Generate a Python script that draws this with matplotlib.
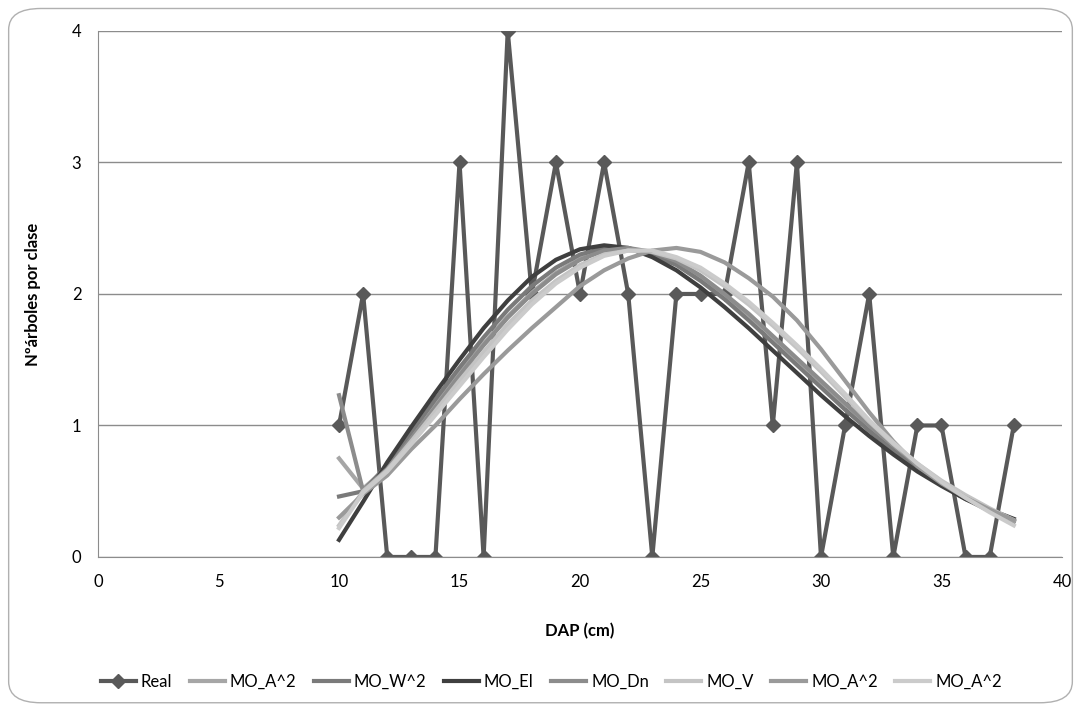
import matplotlib
matplotlib.use("Agg")
import matplotlib.pyplot as plt
from matplotlib.patches import FancyBboxPatch

plt.rcParams['font.family'] = ['Lato', 'DejaVu Sans']

# clases diametricas (cm)
dap = list(range(10, 39))

# frecuencia real
real = [1, 2, 0, 0, 0, 3, 0, 4, 2, 3, 2, 3, 2, 0, 2, 2, 2, 3, 1, 3,
        0, 1, 2, 0, 1, 1, 0, 0, 1]

# modelos ajustados
mo_a2 = [0.75, 0.52, 0.68, 0.92, 1.16, 1.40, 1.62, 1.83, 2.01, 2.16,
         2.27, 2.33, 2.34, 2.31, 2.24, 2.13, 1.99, 1.84, 1.67, 1.50,
         1.33, 1.16, 0.99, 0.84, 0.70, 0.57, 0.46, 0.36, 0.28]
mo_w2 = [0.46, 0.50, 0.70, 0.95, 1.20, 1.44, 1.67, 1.88, 2.06, 2.20,
         2.30, 2.35, 2.35, 2.30, 2.22, 2.10, 1.96, 1.80, 1.63, 1.46,
         1.29, 1.12, 0.96, 0.81, 0.67, 0.55, 0.44, 0.35, 0.27]
mo_el = [0.13, 0.42, 0.72, 0.99, 1.25, 1.50, 1.74, 1.95, 2.13, 2.26,
         2.34, 2.37, 2.35, 2.28, 2.18, 2.05, 1.90, 1.74, 1.57, 1.40,
         1.23, 1.07, 0.92, 0.78, 0.65, 0.54, 0.44, 0.36, 0.29]
mo_dn = [1.23, 0.50, 0.67, 0.90, 1.14, 1.38, 1.61, 1.82, 2.00, 2.15,
         2.26, 2.33, 2.35, 2.32, 2.25, 2.14, 2.00, 1.85, 1.68, 1.51,
         1.34, 1.17, 1.00, 0.85, 0.70, 0.57, 0.46, 0.36, 0.27]
mo_v = [0.24, 0.50, 0.66, 0.88, 1.11, 1.34, 1.56, 1.77, 1.95, 2.10,
        2.22, 2.30, 2.33, 2.32, 2.27, 2.18, 2.06, 1.92, 1.76, 1.59,
        1.41, 1.22, 1.03, 0.86, 0.71, 0.58, 0.47, 0.37, 0.28]
mo_a2_b = [0.30, 0.48, 0.62, 0.82, 1.00, 1.20, 1.39, 1.57, 1.74, 1.90,
           2.06, 2.18, 2.27, 2.33, 2.35, 2.32, 2.24, 2.12, 1.98, 1.80,
           1.58, 1.34, 1.10, 0.88, 0.69, 0.56, 0.45, 0.36, 0.28]
mo_a2_c = [0.22, 0.49, 0.65, 0.86, 1.08, 1.30, 1.52, 1.73, 1.92, 2.08,
           2.20, 2.29, 2.33, 2.33, 2.28, 2.20, 2.08, 1.94, 1.78, 1.61,
           1.43, 1.24, 1.04, 0.87, 0.71, 0.57, 0.45, 0.34, 0.24]

modelos = [
    ("MO_A^2", mo_a2, "#a6a6a6"),
    ("MO_W^2", mo_w2, "#7a7a7a"),
    ("MO_El", mo_el, "#3f3f3f"),
    ("MO_Dn", mo_dn, "#8c8c8c"),
    ("MO_V", mo_v, "#c4c4c4"),
    ("MO_A^2", mo_a2_b, "#9a9a9a"),
    ("MO_A^2", mo_a2_c, "#cbcbcb"),
]

fig = plt.figure(figsize=(10.81, 7.07), dpi=100)
fig.patches.append(FancyBboxPatch((0.008, 0.006), 0.984, 0.982,
                                  boxstyle="round,pad=0,rounding_size=0.03",
                                  transform=fig.transFigure, facecolor="white",
                                  edgecolor="#b0b0b0", linewidth=1.0, zorder=-1))
ax = fig.add_axes([0.0907, 0.2122, 0.8917, 0.744])
ax.set_facecolor("none")

ax.plot(dap, real, color="#595959", linewidth=3, marker="D", markersize=7,
        label="Real", zorder=2)
for nombre, vals, col in modelos:
    ax.plot(dap, vals, color=col, linewidth=3, label=nombre, zorder=3)

ax.set_xlim(0, 40)
ax.set_ylim(0, 4)
ax.set_xticks(range(0, 41, 5))
ax.set_yticks(range(0, 5))
ax.grid(axis="y", color="#8c8c8c", linewidth=1)
ax.set_axisbelow(True)
for s in ["top", "right"]:
    ax.spines[s].set_visible(False)
for s in ["left", "bottom"]:
    ax.spines[s].set_color("#8c8c8c")
ax.tick_params(axis="both", length=0, labelsize=12, colors="#000000", pad=12)

ax.set_xlabel("DAP (cm)", fontsize=12, fontweight="bold", labelpad=24)
ax.set_ylabel("Nºárboles por clase", fontsize=12, fontweight="bold", labelpad=22)

fig.legend(loc="center", bbox_to_anchor=(0.51, 0.035), ncol=8, frameon=False,
           fontsize=12, handlelength=2.1, columnspacing=1.05, handletextpad=0.3)

plt.savefig("out.png", dpi=100)
